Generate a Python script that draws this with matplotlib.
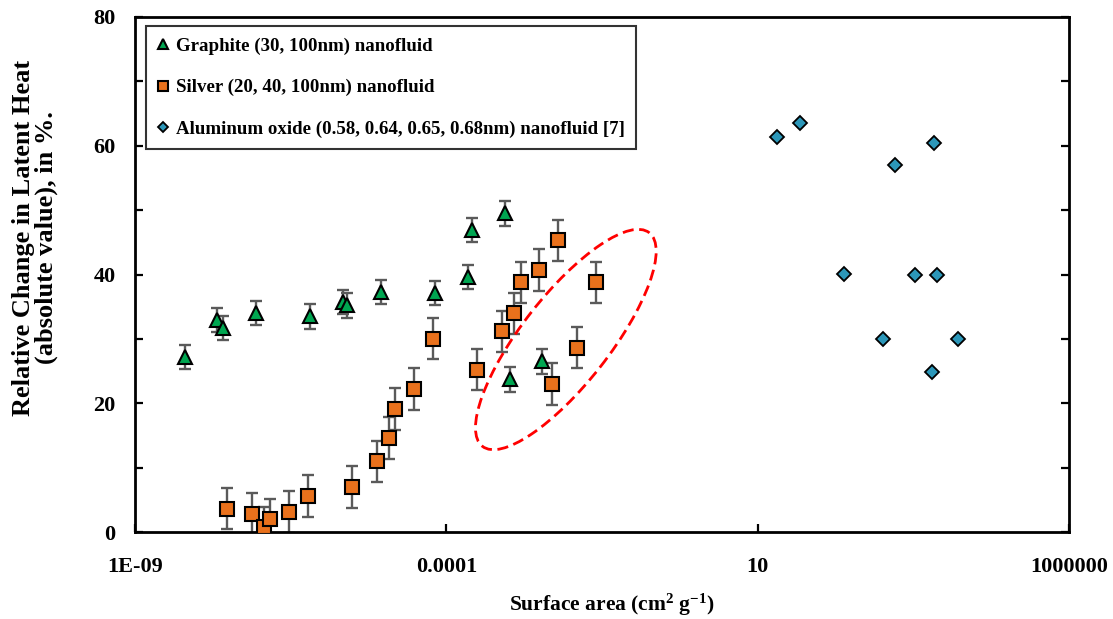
import matplotlib
matplotlib.use("Agg")
import matplotlib.pyplot as plt
from matplotlib.patches import Ellipse
from matplotlib.transforms import ScaledTranslation
from matplotlib.ticker import FixedLocator, FixedFormatter, MultipleLocator, NullLocator

plt.rcParams["font.family"] = ["Liberation Serif", "DejaVu Serif"]
plt.rcParams["font.weight"] = "bold"
plt.rcParams["mathtext.fontset"] = "custom"
plt.rcParams["mathtext.rm"] = "Liberation Serif:bold"
plt.rcParams["mathtext.it"] = "Liberation Serif:bold"
plt.rcParams["mathtext.bf"] = "Liberation Serif:bold"

# Graphite (30, 100 nm) nanofluid
graphite_area = [6.3e-9, 2.1e-8, 2.6e-8, 8.7e-8, 6.5e-7, 2.2e-6, 2.5e-6, 8.9e-6,
                 6.6e-5, 2.2e-4, 2.6e-4, 8.7e-4, 1.05e-3, 3.5e-3]
graphite_change = [27.2, 32.9, 31.7, 34.0, 33.5, 35.7, 35.2, 37.3,
                   37.1, 39.6, 46.9, 49.5, 23.7, 26.5]
graphite_err = [1.9] * len(graphite_change)

# Silver (20, 40, 100 nm) nanofluid
silver_area = [3.0e-8, 7.6e-8, 1.17e-7, 1.5e-7, 2.95e-7, 6.0e-7, 3.0e-6, 7.8e-6,
               1.2e-5, 1.5e-5, 3.0e-5, 6.2e-5, 3.1e-4, 7.8e-4, 1.23e-3, 1.6e-3,
               3.1e-3, 6.2e-3, 2.5e-2, 1.26e-2, 5.0e-3]
silver_change = [3.6, 2.8, 0.7, 2.0, 3.1, 5.6, 7.0, 11.0,
                 14.6, 19.1, 22.2, 30.0, 25.2, 31.2, 34.0, 38.8,
                 40.7, 45.3, 38.8, 28.6, 23.0]
silver_err = [3.2] * len(silver_change)

# Aluminum oxide nanofluid [7]
alumina_area = [20.4, 48.0, 6760.0, 1620.0, 245.0, 3390.0, 7590.0, 1020.0, 16600.0, 6310.0]
alumina_change = [61.3, 63.5, 60.4, 57.0, 40.1, 40.0, 40.0, 30.0, 30.0, 24.8]

series_labels = ["Graphite (30, 100nm) nanofluid",
                 "Silver (20, 40, 100nm) nanofluid",
                 "Aluminum oxide (0.58, 0.64, 0.65, 0.68nm) nanofluid [7]"]

x_ticks = [1e-9, 1e-4, 10, 1e6]
x_tick_labels = ["1E-09", "0.0001", "10", "1000000"]
y_ticks = [0, 20, 40, 60, 80]

green = "#00A651"
orange = "#E9711C"
blue = "#2C97B9"
err_color = "#5A5A5A"

fig = plt.figure(figsize=(11.13, 6.19), dpi=100)
ax = fig.add_axes([135 / 1113, 1 - 532 / 619, 934 / 1113, 515 / 619])
ax.set_xscale("log")
ax.set_xlim(1e-9, 1e6)
ax.set_ylim(0, 80)

err_kw = dict(fmt="none", ecolor=err_color, elinewidth=1.7, capsize=4.5, capthick=1.7, zorder=2)
ax.errorbar(graphite_area, graphite_change, yerr=graphite_err, **err_kw)
ax.errorbar(silver_area, silver_change, yerr=silver_err, **err_kw)

ax.plot(graphite_area, graphite_change, ls="none", marker="^", ms=10, mfc=green,
        mec="black", mew=1.5, label=series_labels[0], zorder=3)
ax.plot(silver_area, silver_change, ls="none", marker="s", ms=9.5, mfc=orange,
        mec="black", mew=1.5, label=series_labels[1], zorder=3)
ax.plot(alumina_area, alumina_change, ls="none", marker="D", ms=7, mfc=blue,
        mec="black", mew=1.3, label=series_labels[2], zorder=3)

# dashed ring around the outlying points
ring_center = (8.3e-3, 29.9)
ring = Ellipse((0, 0), width=2.71, height=0.88, angle=52,
               transform=fig.dpi_scale_trans + ScaledTranslation(*ring_center, ax.transData),
               fill=False, edgecolor="#FF0000", lw=2.0, ls=(0, (4, 2)), zorder=4)
ax.add_patch(ring)

# axes frame and ticks
for side in ax.spines.values():
    side.set_linewidth(2.0)
    side.set_color("black")
ax.xaxis.set_major_locator(FixedLocator(x_ticks))
ax.xaxis.set_major_formatter(FixedFormatter(x_tick_labels))
ax.xaxis.set_minor_locator(NullLocator())
ax.yaxis.set_major_locator(FixedLocator(y_ticks))
ax.yaxis.set_minor_locator(MultipleLocator(10))
ax.tick_params(axis="x", which="both", direction="in", length=6, width=1.6,
               labelsize=16, pad=18, top=False)
ax.tick_params(axis="y", which="both", direction="in", length=6, width=1.6,
               labelsize=16, pad=14, left=True, right=True)

ax.set_xlabel("Surface area (cm$^{2}$ g$^{-1}$)", fontsize=15.5, fontweight="bold", va="center")
ax.xaxis.set_label_coords((612 - 135) / 934, (532 - 605) / 515)
ax.set_ylabel("Relative Change in Latent Heat\n(absolute value), in %.", fontsize=19,
              fontweight="bold", va="center", linespacing=0.95)
ax.yaxis.set_label_coords((35 - 135) / 934, (532 - 238) / 515)

leg = ax.legend(loc="upper left", bbox_to_anchor=((146 - 135) / 934, (532 - 26) / 515),
                borderaxespad=0, fontsize=13.6, frameon=True, fancybox=False,
                markerscale=0.7, handlelength=0.6, handletextpad=0.35,
                labelspacing=1.27, borderpad=0.62)
leg.get_frame().set_edgecolor("black")
leg.get_frame().set_linewidth(1.5)
for t in leg.get_texts():
    t.set_fontweight("bold")

fig.savefig("out.png", dpi=100)
